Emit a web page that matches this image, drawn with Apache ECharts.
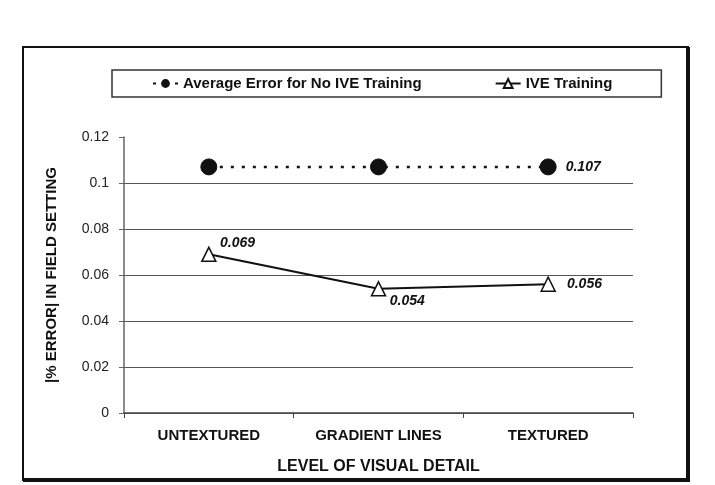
<!DOCTYPE html>
<html><head><meta charset="utf-8">
<script src="https://cdn.jsdelivr.net/npm/echarts@6/dist/echarts.min.js"></script>
<style>html,body{margin:0;padding:0;background:#fff}#c{width:715px;height:485px}</style>
</head><body><div id="c"></div>
<script>
const categories = ['UNTEXTURED', 'GRADIENT LINES', 'TEXTURED'];
const noIveTraining = [0.107, 0.107, 0.107];
const iveTraining = [0.069, 0.054, 0.056];
const seriesNames = ['Average Error for No IVE Training', 'IVE Training'];
const yTicks = { min: 0, max: 0.12, interval: 0.02 };

const FONT = '"Liberation Sans", Arial, sans-serif';
const chart = echarts.init(document.getElementById('c'));
const labelStyle = { fontFamily: FONT, fontWeight: 'bold', fontStyle: 'italic', fontSize: 14, color: '#111' };

chart.setOption({
  animation: false,
  grid: { left: 124, right: 82, top: 137, bottom: 72 },
  legend: {
    left: 112, top: 70,
    padding: [6, 49, 6, 40],
    itemGap: 73,
    itemWidth: 25, itemHeight: 11,
    borderColor: '#333', borderWidth: 1.5,
    textStyle: { fontFamily: FONT, fontWeight: 'bold', fontSize: 15, color: '#111' },
    data: seriesNames
  },
  xAxis: {
    type: 'category', data: categories, boundaryGap: true,
    axisLine: { lineStyle: { color: '#444', width: 1.5 } },
    axisTick: { show: true, length: 5, lineStyle: { color: '#444' } },
    axisLabel: { margin: 15, fontFamily: FONT, fontWeight: 'bold', fontSize: 15, color: '#111' },
    name: 'LEVEL OF VISUAL DETAIL', nameLocation: 'middle', nameGap: 46,
    nameTextStyle: { fontFamily: FONT, fontWeight: 'bold', fontSize: 16, color: '#111' }
  },
  yAxis: {
    type: 'value', min: yTicks.min, max: yTicks.max, interval: yTicks.interval,
    axisLine: { show: true, lineStyle: { color: '#666', width: 1.5 } },
    axisTick: { show: true, length: 5, lineStyle: { color: '#666' } },
    axisLabel: { margin: 15, fontFamily: FONT, fontSize: 14, color: '#222',
      formatter: v => String(+v.toFixed(2)) },
    splitLine: { show: true, lineStyle: { color: ['#555','#555','#555','#555','#555','#555','rgba(0,0,0,0)'], width: 1.2 } },
    name: '|% ERROR| IN FIELD SETTING', nameLocation: 'middle', nameGap: 65,
    nameTextStyle: { fontFamily: FONT, fontWeight: 'bold', fontSize: 15, color: '#111' }
  },
  series: [
    {
      name: seriesNames[0], type: 'line', data: noIveTraining,
      symbol: 'circle', symbolSize: 16,
      itemStyle: { color: '#111', borderColor: '#111' },
      lineStyle: { color: '#111', width: 2.5, type: [3, 8] },
      label: { show: true, position: 'right', distance: 9, ...labelStyle,
        formatter: p => p.dataIndex === 2 ? String(p.value) : '' }
    },
    {
      name: seriesNames[1], type: 'line', data: iveTraining,
      symbol: 'triangle', symbolSize: 14,
      itemStyle: { color: '#fff', borderColor: '#111', borderWidth: 1.5 },
      lineStyle: { color: '#111', width: 2 },
      label: { show: true, ...labelStyle, formatter: p => String(p.value) },
      data: [
        { value: iveTraining[0], label: { position: [19, -10] } },
        { value: iveTraining[1], label: { position: [19, 13] } },
        { value: iveTraining[2], label: { position: 'right', distance: 11 } }
      ]
    }
  ],
  graphic: [
    { type: 'rect', shape: { x: 23, y: 47, width: 665, height: 433 }, style: { fill: 'none', stroke: '#111', lineWidth: 2 } },
    { type: 'line', shape: { x1: 688, y1: 47, x2: 688, y2: 481 }, style: { stroke: '#111', lineWidth: 4 } },
    { type: 'line', shape: { x1: 23, y1: 480, x2: 690, y2: 480 }, style: { stroke: '#111', lineWidth: 4 } }
  ]
});
</script></body></html>
